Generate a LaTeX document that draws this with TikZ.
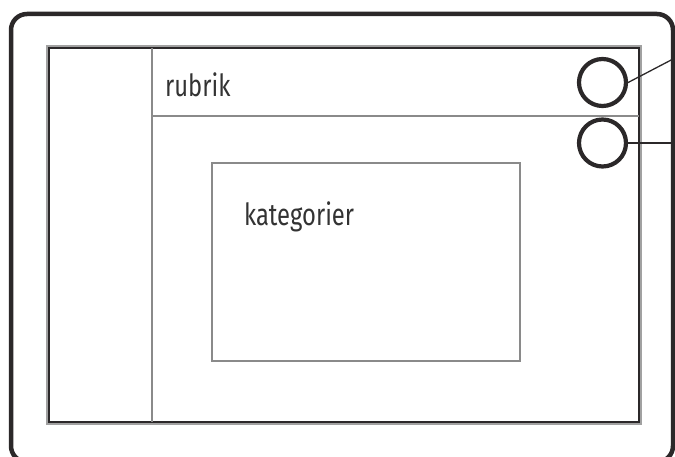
\documentclass[tikz,border=0pt]{standalone}
\usepackage{fontspec}
\newfontfamily\condfont[FakeStretch=0.78]{Fira Sans}
\definecolor{frame}{HTML}{2B2829}
\definecolor{greyline}{HTML}{8A8A8A}
\definecolor{txt}{HTML}{333333}
\tikzset{
  outerframe/.style={draw=frame, line width=4.5pt, rounded corners=16pt},
  panelshadow/.style={draw=greyline!80, line width=4pt},
  panel/.style={draw=frame, line width=2.5pt},
  divider/.style={draw=greyline, line width=2.5pt},
  boxgrey/.style={draw=greyline, line width=2.5pt, fill=white},
  knob/.style={circle, draw=frame, line width=4.2pt, minimum size=47pt, inner sep=0pt},
  lead/.style={draw=frame, line width=1.3pt},
  lbl/.style={font=\condfont\fontsize{30.5}{32}\selectfont, text=txt, inner sep=0pt, anchor=base west}
}
\begin{document}
\begin{tikzpicture}[x=1pt,y=-1pt]
\useasboundingbox (0,0) rectangle (675,457);
\begin{scope}
\clip (0,0) rectangle (675,457);
\draw[outerframe] (11,14) rectangle (673,462);
\draw[panelshadow] (48,47) rectangle (640,423);
\draw[panel] (49,48) rectangle (639,422);
\draw[divider] (152,48) -- (152,422);
\draw[divider] (152,116) -- (639,116);
\draw[boxgrey] (212,163) rectangle (520,361);
\node[lbl] (rubrik) at (165,97) {rubrik};
\node[lbl] (kat) at (244,226) {kategorier};
\node[knob] (c1) at (602.5,82.5) {};
\node[knob] (c2) at (602.5,143) {};
\coordinate (e1) at (675,58);
\coordinate (e2) at (675,143);
\draw[lead] (c1.east) -- (e1);
\draw[lead] (c2.east) -- (e2);
\end{scope}
\end{tikzpicture}
\end{document}
